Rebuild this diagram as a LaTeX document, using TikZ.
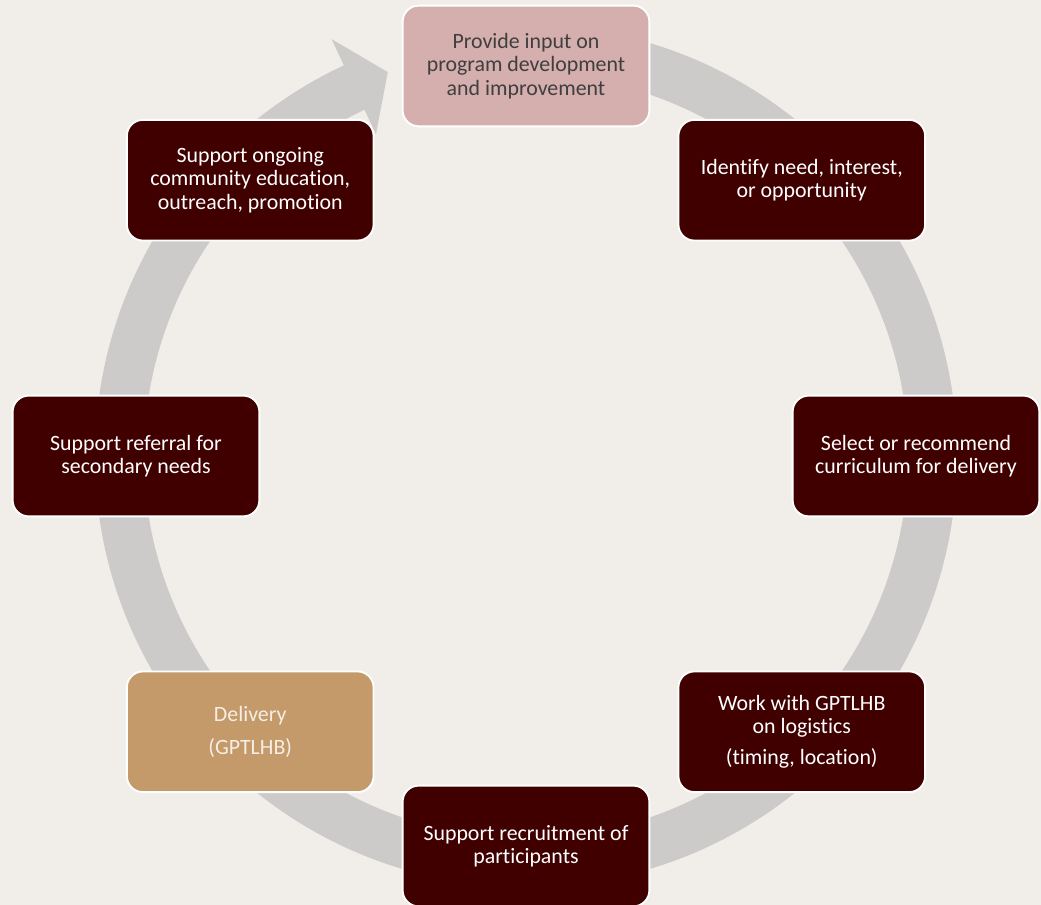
\documentclass[tikz,border=0pt]{standalone}
\usepackage{fontspec}
\setmainfont{Carlito}[Ligatures=NoCommon]
\definecolor{bgc}{HTML}{F1EEEA}
\definecolor{ringc}{HTML}{CDCACA}
\definecolor{darkc}{HTML}{400000}
\definecolor{pinkc}{HTML}{D5AEAE}
\definecolor{tanc}{HTML}{C49A6A}
\definecolor{greytext}{HTML}{3F3F3F}
\definecolor{creamtext}{HTML}{F6EEE4}
\begin{document}
\begin{tikzpicture}[x=0.75pt,y=0.75pt,
  stepbox/.style={rounded corners=12pt, draw=white, line width=1.4pt,
    minimum width=185pt, minimum height=90.5pt, align=center,
    font=\fontsize{16.4}{17.6}\selectfont, inner sep=2pt},
  darkbox/.style={stepbox, fill=darkc, text=white},
  pinkbox/.style={stepbox, fill=pinkc, text=greytext},
  tanbox/.style={stepbox, fill=tanc, text=creamtext}]
\fill[bgc] (-526,-449) rectangle (515,456);
\useasboundingbox (-526,-449) rectangle (515,456);
% ring with arrowhead
\fill[ringc] (88:431) arc[start angle=88, end angle=-245, radius=431]
  -- (115:460) -- (109.8:408) -- (115:355) -- (115:382)
  arc[start angle=-245, end angle=88, radius=382] -- cycle;
% boxes
\node[pinkbox] (n1) at (90:390) {Provide input on\\program development\\and improvement};
\node[darkbox] (n2) at (45:390) {Identify need, interest,\\or opportunity};
\node[darkbox] (n3) at (0:390) {Select or recommend\\curriculum for delivery};
\node[darkbox] (n4) at (-45:390) {Work with GPTLHB\\on logistics\\[6pt](timing, location)};
\node[darkbox] (n5) at (-90:390) {Support recruitment of\\participants};
\node[tanbox] (n6) at (-135:390) {Delivery\\[7pt](GPTLHB)};
\node[darkbox] (n7) at (180:390) {Support referral for\\secondary needs};
\node[darkbox] (n8) at (135:390) {Support ongoing\\community education,\\outreach, promotion};
\end{tikzpicture}
\end{document}
